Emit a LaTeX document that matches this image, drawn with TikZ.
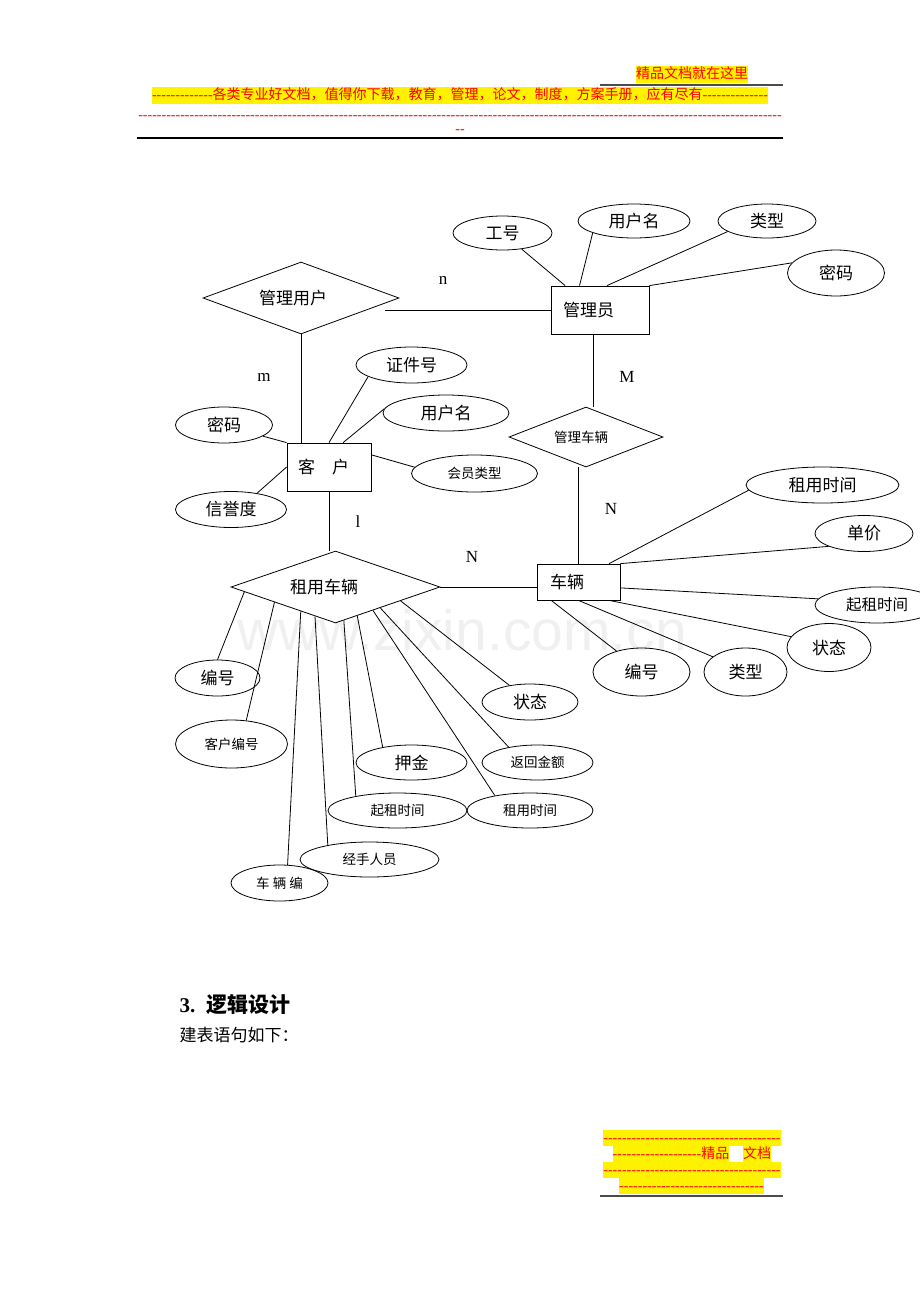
\documentclass[tikz,border=0pt]{standalone}
\usepackage{fontspec}
\newfontfamily\cjk{Noto Sans CJK SC}
\newfontfamily\tnr{Liberation Serif}
\newfontfamily\wmfont{Liberation Sans}
\usetikzlibrary{shapes.geometric}
\newcommand\dashrun[1]{\foreach \d in {1,...,#1}{-\kern0pt}}

\begin{document}
\begin{tikzpicture}[x=1pt,y=-1pt,
    big/.style={font=\cjk\fontsize{17pt}{20pt}\selectfont},
    small/.style={font=\cjk\fontsize{13.5pt}{16pt}\selectfont},
    sz/.style 2 args={minimum width=#1pt,minimum height=#2pt},
    lt/.style={text width=#1pt,align=left},
    ent/.style={draw,rectangle,line width=0.8pt,inner sep=0pt,big},
    rel/.style={draw,diamond,line width=0.8pt,inner sep=0pt,aspect=2.8,big},
    attr/.style={draw,ellipse,line width=0.8pt,inner sep=0pt,big},
    card/.style={font=\tnr\fontsize{17pt}{20pt}\selectfont},
    hl/.style={fill=yellow,text=red,inner xsep=0pt,inner ysep=0.5pt,text height=12pt,text depth=3.5pt,font=\fontsize{14pt}{16pt}\selectfont},
    link/.style={line width=0.8pt}]
      \useasboundingbox (0,0) rectangle (920,1302);
      \clip (0,0) rectangle (920,1302);

      \node[text=gray!12,anchor=base,font=\wmfont\fontsize{57pt}{60pt}\selectfont] (wm) at (462,650) {www.zixin.com.cn};

      \node[hl] (hd1) at (692,74.5) {\cjk 精品文档就在这里};
      \node[hl] (hd2) at (460,95.5) {{\tnr\dashrun{13}}{\cjk 各类专业好文档，值得你下载，教育，管理，论文，制度，方案手册，应有尽有}{\tnr\dashrun{14}}};
      \node[hl,fill=none] (hd3) at (460,115) {\tnr\dashrun{138}};
      \node[hl,fill=none] (hd4) at (460,129) {\tnr\dashrun{2}};
      \draw[gray!60!black,line width=1.3pt] (600,85) -- (783,85);
      \draw[line width=1.2pt] (137,138) -- (783,138);

      \node[rel,lt=84,sz={196}{72}] (glyh) at (301,298) {管理用户};
      \node[ent,lt=74,sz={98}{48}] (gly) at (600,310) {管理员};
      \node[rel,small,lt=64,sz={154}{60}] (glcl) at (586,437) {管理车辆};
      \node[ent,lt=62,sz={84}{48}] (kh) at (329,467) {客　户};
      \node[rel,lt=91,sz={209}{72}] (zycl) at (335.5,587) {租用车辆};
      \node[ent,lt=57,sz={83}{36}] (cl) at (578.5,582) {车辆};

      \node[attr,sz={99}{34}] (gh) at (502.5,233) {工号};
      \node[attr,sz={112}{34}] (yhm1) at (634,221) {用户名};
      \node[attr,sz={98}{34}] (lx1) at (767,221) {类型};
      \node[attr,sz={97}{46}] (mm1) at (836,273) {密码};

      \node[attr,sz={111}{36}] (zjh) at (411.5,365) {证件号};
      \node[attr,sz={126}{36}] (yhm2) at (446,413) {用户名};
      \node[attr,sz={97}{36}] (mm2) at (224,425) {密码};
      \node[attr,sz={111}{36}] (xyd) at (231,509.5) {信誉度};
      \node[attr,small,sz={126}{37}] (hylx) at (474.5,473.5) {会员类型};

      \node[attr,sz={153}{36}] (zysj1) at (822.5,485) {租用时间};
      \node[attr,sz={98}{36}] (dj) at (864,533.5) {单价};
      \node[attr,sz={124}{36},font=\cjk\fontsize{15.5pt}{18pt}\selectfont] (qzsj1) at (877,605) {起租时间};
      \node[attr,sz={84}{48}] (zt1) at (829,647.5) {状态};
      \node[attr,sz={83}{48}] (lx2) at (745.5,672) {类型};
      \node[attr,sz={97}{48}] (bh2) at (641.5,672) {编号};

      \node[attr,sz={85}{36}] (bh1) at (217.5,678) {编号};
      \node[attr,small,sz={112}{48}] (khbh) at (231.5,744) {客户编号};
      \node[attr,small,sz={97}{36}] (clbh) at (279.5,883) {车 辆 编};
      \node[attr,small,sz={139}{35}] (jsry) at (369.5,859.5) {经手人员};
      \node[attr,small,sz={139}{35}] (qzsj2) at (397.5,810.5) {起租时间};
      \node[attr,sz={111}{35}] (yj) at (411.5,762.5) {押金};
      \node[attr,small,sz={126}{35}] (zysj2) at (530,810.5) {租用时间};
      \node[attr,small,sz={111}{35}] (fhje) at (537.5,762.5) {返回金额};
      \node[attr,sz={96}{36}] (zt2) at (530,702) {状态};

      \node[card] (c1) at (443,280) {n};
      \node[card] (c2) at (264,377) {m};
      \node[card] (c3) at (627,377) {M};
      \node[card] (c4) at (611,509) {N};
      \node[card] (c5) at (358,522) {l};
      \node[card] (c6) at (472,557) {N};

      \draw[link] ([xshift=-14pt]gly.west -| glyh.east) -- (gly.west);
      \draw[link] (glyh.south) -- (glyh.south |- kh.north);
      \draw[link] ([xshift=-7pt]gly.south) -- ([xshift=-7pt]gly.south |- glcl.north);
      \draw[link] (glcl.south -| cl.north) -- (cl.north);
      \draw[link] (kh.south) -- (kh.south |- zycl.north);
      \draw[link] (zycl.east) -- (zycl.east -| cl.west);

      \draw[link] (gh.320) -- (gly.145);
      \draw[link] (yhm1.196) -- (gly.130);
      \draw[link] (lx1.195) -- (gly.74);
      \draw[link] (mm1.167) -- (gly.north east);

      \draw[link] (zjh.195) -- (kh.north);
      \draw[link] (yhm2.176) -- (kh.60);
      \draw[link] (mm2.344) -- (kh.north west);
      \draw[link] (xyd.32) -- (kh.west);
      \draw[link] (kh.16) -- (hylx.174);

      \draw[link] (zysj1.184) -- (cl.31);
      \draw[link] (dj.200) -- (cl.north east);
      \draw[link] (cl.352) -- (qzsj1.174);
      \draw[link] (cl.329) -- (zt1.164);
      \draw[link] (cl.south) -- (lx2.155);
      \draw[link] (cl.214) -- (bh2.140);

      \draw[link] (zycl.183) -- (bh1.north);
      \draw[link] (zycl.194) -- (khbh.58);
      \draw[link] (zycl.215) -- (clbh.66);
      \draw[link] (zycl.235) -- (jsry.161);
      \draw[link] (zycl.284) -- (qzsj2.161);
      \draw[link] (zycl.307) -- (yj.152);
      \draw[link] (zycl.328) -- (zysj2.157);
      \draw[link] (zycl.335) -- (fhje.152);
      \draw[link] (zycl.348) -- (zt2.141);

      \node[anchor=base west] (sec) at (176,1012) {{\tnr\bfseries\fontsize{21pt}{24pt}\selectfont 3.}\hspace{11pt}{\cjk\bfseries\fontsize{21pt}{24pt}\selectfont 逻辑设计}};
      \node[anchor=base west,big] (body) at (176,1041) {建表语句如下：};

      \node[hl] (ft1) at (692,1138) {\tnr\dashrun{38}};
      \node[hl] (ft2) at (671,1154) {{\tnr\dashrun{19}}{\cjk 精品}};
      \node[hl] (ft2b) at (757,1154) {\cjk 文档};
      \node[hl] (ft3) at (692,1170) {\tnr\dashrun{38}};
      \node[hl] (ft4) at (691.5,1186) {\tnr\dashrun{31}};
      \draw[gray!60!black,line width=1.3pt] (600,1196) -- (783,1196);
\end{tikzpicture}
\end{document}
